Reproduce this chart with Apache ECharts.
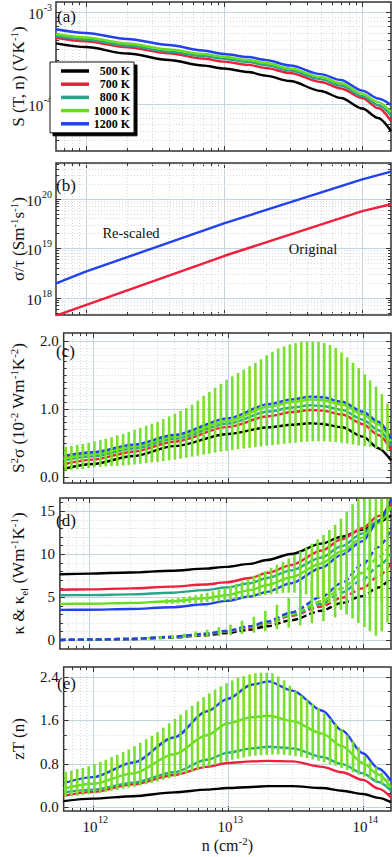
<!DOCTYPE html>
<html><head><meta charset="utf-8">
<script src="https://cdn.jsdelivr.net/npm/echarts@6/dist/echarts.min.js"></script>
<style>html,body{margin:0;padding:0;background:#fff}#c{width:392px;height:857px}</style>
</head><body><div id="c"></div>
<script>
const FONT = '"Liberation Serif", "Times New Roman", serif';
const temps = ['500 K', '700 K', '800 K', '1000 K', '1200 K'];
const lineColors = ['#000000', '#f0203c', '#2aa58a', '#66dd1f', '#2242f0'];
const barColor = '#7ae030';
const MAJOR_GRID = '#c6d4de', MINOR_GRID = '#d6dadd', TICK = '#333';

// x axis (carrier density, cm^-2)
const nMin = 6.1e11, nMax = 1.613e14;
const xMajorTicks = [1e12, 1e13, 1e14];
const xMinorTicks = [7e11, 8e11, 9e11, 2e12, 3e12, 4e12, 5e12, 6e12, 7e12, 8e12, 9e12, 2e13, 3e13, 4e13, 5e13, 6e13, 7e13, 8e13, 9e13];

// common sampling of curves for (a), (d), (e)
const nCurve = [6.1e11, 1e12, 2e12, 4e12, 7e12, 1e13, 1.5e13, 2e13, 3e13, 5e13, 7e13, 1e14, 1.3e14, 1.613e14];

// (a) Seebeck S (V/K)
const sA500 = [4.58e-4, 4.17e-4, 3.54e-4, 3.01e-4, 2.62e-4, 2.43e-4, 2.22e-4, 2.03e-4, 1.77e-4, 1.38e-4, 1.155e-4, 8.86e-5, 6.98e-5, 5.03e-5];
const sA700 = [5.27e-4, 4.82e-4, 4.14e-4, 3.56e-4, 3.12e-4, 2.89e-4, 2.66e-4, 2.46e-4, 2.17e-4, 1.73e-4, 1.47e-4, 1.155e-4, 8.97e-5, 6.47e-5];
const sA800 = [5.50e-4, 5.04e-4, 4.33e-4, 3.72e-4, 3.33e-4, 3.10e-4, 2.86e-4, 2.65e-4, 2.31e-4, 1.86e-4, 1.58e-4, 1.21e-4, 9.68e-5, 7.43e-5];
const sA1000 = [5.79e-4, 5.30e-4, 4.56e-4, 3.92e-4, 3.50e-4, 3.27e-4, 3.01e-4, 2.79e-4, 2.43e-4, 1.96e-4, 1.68e-4, 1.29e-4, 1.04e-4, 8.11e-5];
const sA1200 = [6.52e-4, 5.94e-4, 5.10e-4, 4.39e-4, 3.82e-4, 3.50e-4, 3.24e-4, 3.01e-4, 2.62e-4, 2.11e-4, 1.82e-4, 1.39e-4, 1.14e-4, 9.68e-5];
const yMajorA = [1e-4, 1e-3];
const yMinorA = [4e-5, 5e-5, 6e-5, 7e-5, 8e-5, 9e-5, 2e-4, 3e-4, 4e-4, 5e-4, 6e-4, 7e-4, 8e-4, 9e-4];

// (b) sigma/tau
const nB = [6.1e11, 1e12, 1e13, 1e14, 1.613e14];
const rescaledB = [1.95e18, 3.35e18, 3.18e19, 2.45e20, 3.51e20];
const originalB = [4.33e17, 7.1e17, 6.95e18, 5.6e19, 7.71e19];
const yMajorB = [1e18, 1e19, 1e20];
const yMinorB = [5e17, 6e17, 7e17, 8e17, 9e17, 2e18, 3e18, 4e18, 5e18, 6e18, 7e18, 8e18, 9e18, 2e19, 3e19, 4e19, 5e19, 6e19, 7e19, 8e19, 9e19, 2e20, 3e20, 4e20, 5e20];

// (c) power factor
const nC = [6.1e11, 1e12, 2e12, 4e12, 1e13, 2e13, 3e13, 4.1e13, 5e13, 7e13, 1e14, 1.3e14, 1.613e14];
const pfC500 = [0.114, 0.187, 0.305, 0.45, 0.63, 0.728, 0.766, 0.787, 0.777, 0.728, 0.59, 0.42, 0.24];
const pfC700 = [0.183, 0.251, 0.368, 0.516, 0.734, 0.892, 0.953, 0.984, 0.974, 0.917, 0.774, 0.615, 0.40];
const pfC800 = [0.238, 0.300, 0.414, 0.557, 0.782, 0.960, 1.020, 1.052, 1.042, 0.985, 0.840, 0.685, 0.46];
const pfC1000 = [0.272, 0.331, 0.444, 0.587, 0.82, 1.03, 1.10, 1.137, 1.127, 1.063, 0.917, 0.77, 0.52];
const pfC1200 = [0.305, 0.36, 0.472, 0.615, 0.86, 1.07, 1.14, 1.18, 1.17, 1.105, 0.958, 0.81, 0.56];
const yMajorC = [0, 1, 2];
const yMinorC = [0.1, 0.2, 0.3, 0.4, 0.5, 0.6, 0.7, 0.8, 0.9, 1.1, 1.2, 1.3, 1.4, 1.5, 1.6, 1.7, 1.8, 1.9];
const yLabelsC = [0, 1, 2];

// (d) thermal conductivity: total (solid) and electronic (dashed)
const kD500 = [7.65, 7.72, 7.85, 8.05, 8.3, 8.5, 8.85, 9.3, 10.0, 11.2, 12.0, 12.8, 13.7, 14.5];
const kD700 = [5.85, 5.88, 6.0, 6.2, 6.45, 6.7, 7.2, 7.8, 8.7, 10.4, 11.7, 13.0, 14.4, 15.8];
const kD800 = [5.2, 5.22, 5.3, 5.5, 5.8, 6.1, 6.6, 7.2, 8.1, 9.6, 10.9, 12.4, 13.9, 15.3];
const kD1000 = [4.2, 4.22, 4.3, 4.5, 4.85, 5.2, 5.8, 6.4, 7.3, 8.9, 10.3, 11.9, 13.6, 15.5];
const kD1200 = [3.5, 3.52, 3.6, 3.8, 4.15, 4.55, 5.05, 5.6, 6.6, 8.4, 9.9, 11.5, 13.8, 16.4];
const kelD500 = [0.0, 0.04, 0.1, 0.28, 0.55, 0.8, 1.2, 1.6, 2.3, 3.4, 4.3, 5.1, 6.1, 7.2];
const kelD700 = [0.0, 0.05, 0.12, 0.33, 0.65, 0.95, 1.45, 1.95, 2.8, 3.9, 4.9, 6.0, 7.4, 8.9];
const kelD800 = [0.0, 0.05, 0.12, 0.34, 0.68, 1.0, 1.5, 2.0, 2.9, 4.2, 5.5, 7.0, 8.6, 10.0];
const kelD1000 = [0.0, 0.05, 0.12, 0.35, 0.7, 1.0, 1.55, 2.05, 3.0, 4.5, 6.0, 7.8, 9.6, 11.2];
const kelD1200 = [0.0, 0.05, 0.12, 0.36, 0.72, 1.05, 1.6, 2.15, 3.2, 5.0, 6.6, 8.8, 10.8, 12.8];
const yMajorD = [0, 5, 10, 15];
const yMinorD = [1, 2, 3, 4, 6, 7, 8, 9, 11, 12, 13, 14, 16];
const yLabelsD = [0, 5, 10, 15];

// (e) zT
const zt500 = [0.11, 0.155, 0.20, 0.27, 0.32, 0.35, 0.37, 0.385, 0.385, 0.35, 0.30, 0.24, 0.17, 0.09];
const zt700 = [0.21, 0.28, 0.42, 0.59, 0.74, 0.81, 0.84, 0.85, 0.84, 0.74, 0.64, 0.50, 0.34, 0.18];
const zt800 = [0.27, 0.32, 0.45, 0.64, 0.87, 1.0, 1.08, 1.11, 1.08, 0.92, 0.79, 0.62, 0.46, 0.30];
const zt1000 = [0.34, 0.43, 0.62, 0.97, 1.32, 1.54, 1.65, 1.68, 1.58, 1.35, 1.12, 0.81, 0.60, 0.36];
const zt1200 = [0.44, 0.55, 0.82, 1.28, 1.76, 1.99, 2.25, 2.31, 2.14, 1.77, 1.41, 0.99, 0.71, 0.48];
const yMajorE = [0, 0.8, 1.6, 2.4];
const yMinorE = [0.2667, 0.5333, 1.0667, 1.3333, 1.8667, 2.1333];
const yLabelsE = [0, 0.8, 1.6, 2.4];

// error bars (1000 K)
const nBar = [6.31e11, 6.96e11, 7.68e11, 8.46e11, 9.34e11, 1.03e12, 1.14e12, 1.25e12, 1.38e12, 1.52e12,
  1.68e12, 1.85e12, 2.04e12, 2.25e12, 2.49e12, 2.74e12, 3.02e12, 3.33e12, 3.68e12, 4.06e12,
  4.47e12, 4.93e12, 5.44e12, 6.00e12, 6.62e12, 7.30e12, 8.05e12, 8.88e12, 9.79e12, 1.08e13,
  1.19e13, 1.31e13, 1.45e13, 1.60e13, 1.76e13, 1.94e13, 2.14e13, 2.36e13, 2.61e13, 2.88e13,
  3.17e13, 3.50e13, 3.86e13, 4.25e13, 4.69e13, 5.17e13, 5.71e13, 6.29e13, 6.94e13, 7.65e13,
  8.44e13, 9.31e13, 1.03e14, 1.13e14, 1.25e14, 1.38e14, 1.52e14];
const errCHigh = [0.44, 0.455, 0.47, 0.48, 0.50, 0.52, 0.54, 0.56, 0.58, 0.61,
  0.63, 0.66, 0.69, 0.72, 0.75, 0.78, 0.81, 0.85, 0.89, 0.93,
  0.97, 1.01, 1.06, 1.12, 1.19, 1.25, 1.31, 1.37, 1.43, 1.48,
  1.53, 1.58, 1.63, 1.68, 1.73, 1.79, 1.84, 1.89, 1.92, 1.95,
  1.97, 1.985, 1.99, 1.99, 1.985, 1.97, 1.94, 1.90, 1.83, 1.76,
  1.68, 1.60, 1.51, 1.42, 1.33, 1.22, 1.08];
const errCLow = [0.09, 0.10, 0.11, 0.115, 0.125, 0.14, 0.145, 0.15, 0.155, 0.16,
  0.165, 0.17, 0.18, 0.19, 0.20, 0.21, 0.22, 0.23, 0.24, 0.25,
  0.265, 0.28, 0.295, 0.31, 0.325, 0.34, 0.355, 0.37, 0.38, 0.395,
  0.405, 0.415, 0.425, 0.435, 0.445, 0.455, 0.465, 0.475, 0.485, 0.495,
  0.50, 0.51, 0.515, 0.52, 0.52, 0.52, 0.515, 0.51, 0.50, 0.49,
  0.475, 0.46, 0.45, 0.44, 0.42, 0.40, 0.38];
const nBarK = nBar.slice(18);
const errKHigh = [4.75, 4.8, 4.9, 5.0, 5.1, 5.2, 5.35, 5.5, 5.65, 5.85, 6.05, 6.3, 6.55, 6.8, 7.1, 7.4, 7.7, 8.0, 8.4, 8.75,
  9.1, 9.5, 9.9, 10.3, 10.75, 11.2, 11.7, 12.2, 12.8, 13.4, 14.1, 14.9, 15.8, 16.8, 17.5, 18, 18, 18, 18];
const errKLow = [4.2, 4.2, 4.25, 4.25, 4.3, 4.3, 4.35, 4.4, 4.45, 4.5, 4.55, 4.6, 4.7, 4.8, 4.9, 5.0, 5.1, 5.2, 5.3, 5.4,
  5.45, 5.5, 5.5, 5.4, 5.3, 5.1, 4.9, 4.6, 4.3, 3.9, 3.5, 3.0, 2.5, 2.0, 1.5, 1.0, 0.5, 1.0, 2.0];
const nBarKel = [2.74e12, 3.33e12, 4.06e12, 4.93e12, 6.00e12, 7.30e12, 8.88e12, 1.08e13, 1.31e13, 1.60e13, 1.94e13,
  2.36e13, 2.88e13, 3.50e13, 4.25e13, 5.17e13, 6.29e13, 7.65e13, 9.31e13, 1.13e14, 1.38e14];
const errKelHigh = [0.35, 0.45, 0.58, 0.75, 0.98, 1.2, 1.5, 1.78, 2.25, 2.7, 3.4, 4.1, 4.9, 5.9, 6.8, 7.9, 9.3, 11.0, 12.7, 14.6, 17];
const errKelLow = [0.08, 0.12, 0.17, 0.22, 0.3, 0.38, 0.46, 0.55, 0.7, 0.85, 1.05, 1.25, 1.45, 1.7, 1.95, 2.2, 2.6, 3.0, 3.4, 3.9, 4.5];
const errEHigh = [0.65, 0.67, 0.70, 0.72, 0.75, 0.79, 0.83, 0.87, 0.92, 0.96,
  1.01, 1.06, 1.12, 1.18, 1.25, 1.31, 1.38, 1.46, 1.54, 1.62,
  1.70, 1.78, 1.86, 1.94, 2.02, 2.09, 2.16, 2.22, 2.28, 2.33,
  2.38, 2.41, 2.44, 2.46, 2.47, 2.47, 2.46, 2.40, 2.33, 2.23,
  2.13, 2.05, 1.98, 1.90, 1.82, 1.72, 1.62, 1.53, 1.43, 1.32,
  1.21, 1.10, 0.94, 0.83, 0.73, 0.63, 0.52];
const errELow = [0.19, 0.20, 0.21, 0.22, 0.235, 0.25, 0.265, 0.28, 0.30, 0.315,
  0.335, 0.355, 0.375, 0.395, 0.42, 0.445, 0.47, 0.50, 0.53, 0.56,
  0.59, 0.62, 0.66, 0.69, 0.72, 0.75, 0.78, 0.81, 0.84, 0.87,
  0.89, 0.91, 0.93, 0.945, 0.955, 0.96, 0.965, 0.965, 0.96, 0.95,
  0.935, 0.92, 0.90, 0.875, 0.85, 0.82, 0.79, 0.76, 0.72, 0.68,
  0.64, 0.60, 0.56, 0.52, 0.47, 0.42, 0.37];

// ---------------- build ----------------
const grids = [
  {top: 2, height: 149},
  {top: 163, height: 152},
  {top: 333, height: 150},
  {top: 498, height: 151},
  {top: 667, height: 147}
].map(g => Object.assign({left: 49, right: 1, show: true, borderColor: '#333', borderWidth: 1.5, backgroundColor: '#fff'}, g));

const nameRich = {
  s: {fontFamily: FONT, fontSize: 11, color: '#111', lineHeight: 21, verticalAlign: 'top'},
  u: {fontFamily: FONT, fontSize: 11, color: '#111', lineHeight: 21, verticalAlign: 'bottom'}
};
const measureCtx = document.createElement('canvas').getContext('2d');
function textWidth(t, size) { measureCtx.font = size + 'px "Liberation Serif"'; return measureCtx.measureText(t).width; }
const expOf = v => String(Math.round(Math.log10(v)));

const xAxes = grids.map((g, i) => ({
  type: 'log', logBase: 10, gridIndex: i, min: nMin, max: nMax,
  axisLine: {show: false}, axisTick: {show: false}, splitLine: {show: false}, axisLabel: {show: false},
  name: i === 4 ? 'n (cm{s|-2})' : '', nameLocation: 'middle', nameGap: 24,
  nameTextStyle: {fontFamily: FONT, fontSize: 16, color: '#111', lineHeight: 21, rich: nameRich}
}));

function yAxisBase(i, name) {
  return {
    gridIndex: i, axisLine: {show: false}, axisTick: {show: false}, splitLine: {show: false},
    name: name, nameLocation: 'middle', nameGap: 27,
    nameTextStyle: {fontFamily: FONT, fontSize: 17, color: '#111', lineHeight: 21, rich: nameRich}
  };
}
const yAxes = [
  Object.assign(yAxisBase(0, 'S (T, n) (VK{s|-1})'), {type: 'log', logBase: 10, min: 3.04e-5, max: 1.297e-3, axisLabel: {show: false}}),
  Object.assign(yAxisBase(1, 'σ/τ (Sm{s|-1}s{s|-1})'), {type: 'log', logBase: 10, min: 4.47e17, max: 5.26e20, axisLabel: {show: false}}),
  Object.assign(yAxisBase(2, 'S{s|2}σ (10{s|-2} Wm{s|-1}K{s|-2})'), {type: 'value', min: -0.093, max: 2.118,
    axisLabel: {customValues: yLabelsC, margin: 5, fontFamily: FONT, fontSize: 15, color: '#111', formatter: v => v.toFixed(1)}}),
  Object.assign(yAxisBase(3, 'κ & κ{u|el} (Wm{s|-1}K{s|-1})'), {type: 'value', min: -1.047, max: 16.51,
    axisLabel: {customValues: yLabelsD, margin: 5, fontFamily: FONT, fontSize: 15, color: '#111', formatter: v => String(Math.round(v))}}),
  Object.assign(yAxisBase(4, 'zT (n)'), {type: 'value', min: -0.072, max: 2.575,
    axisLabel: {customValues: yLabelsE, margin: 5, fontFamily: FONT, fontSize: 15, color: '#111', formatter: v => v.toFixed(1)}})
];

const series = [];
function addLine(gi, name, xs, ys, color, dashed, smooth) {
  series.push({
    type: 'line', name: name, xAxisIndex: gi, yAxisIndex: gi,
    data: xs.map((x, i) => [x, ys[i]]),
    symbol: 'none', showSymbol: false, smooth: smooth === false ? false : 0.3, smoothMonotone: 'x',
    lineStyle: {color: color, width: 2.4, type: dashed ? [6, 3] : 'solid'},
    itemStyle: {color: color}, z: 3, animation: false, silent: true
  });
}
// left-anchored text (positions computed from measured widths)
function leftText(x, y, text, size) {
  return {type: 'text', x: x, y: y, style: {text: text, fontFamily: FONT, fontSize: size, fill: '#111', align: 'left', verticalAlign: 'middle'}};
}
// grid lines + ticks on all four sides (+ power-of-ten labels where requested)
function addGrid(gi, xRef, yRef, yMajor, yMinor, xLabels, yPowLabels) {
  const xd = xMajorTicks.map(v => [v, yRef, 1]).concat(xMinorTicks.map(v => [v, yRef, 0]));
  const yd = yMajor.map(v => [xRef, v, 1]).concat(yMinor.map(v => [xRef, v, 0]));
  series.push({
    type: 'custom', xAxisIndex: gi, yAxisIndex: gi, z: 1, silent: true, animation: false, data: xd,
    renderItem: (p, api) => {
      const cs = p.coordSys;
      const v = api.value(0);
      const px = Math.round(api.coord([v, api.value(1)])[0]) + 0.5;
      const major = api.value(2) === 1, len = major ? 5 : 3;
      const ch = [
        {type: 'line', shape: {x1: px, y1: cs.y, x2: px, y2: cs.y + cs.height},
          style: {stroke: major ? MAJOR_GRID : MINOR_GRID, lineWidth: 1, lineDash: major ? 'solid' : [1, 2]}},
        {type: 'line', shape: {x1: px, y1: cs.y + cs.height, x2: px, y2: cs.y + cs.height - len}, style: {stroke: TICK, lineWidth: 1}},
        {type: 'line', shape: {x1: px, y1: cs.y, x2: px, y2: cs.y + len}, style: {stroke: TICK, lineWidth: 1}}
      ];
      if (major && xLabels) {
        const by = cs.y + cs.height;
        ch.push(leftText(px + 4 - textWidth('10', 15), by + 16, '10', 15));
        ch.push(leftText(px + 4.5, by + 8, expOf(v), 10));
      }
      return {type: 'group', children: ch};
    }
  });
  series.push({
    type: 'custom', xAxisIndex: gi, yAxisIndex: gi, z: 1, silent: true, animation: false, data: yd,
    renderItem: (p, api) => {
      const cs = p.coordSys;
      const v = api.value(1);
      const py = Math.round(api.coord([api.value(0), v])[1]) + 0.5;
      const major = api.value(2) === 1, len = major ? 5 : 3;
      const ch = [
        {type: 'line', shape: {x1: cs.x, y1: py, x2: cs.x + cs.width, y2: py},
          style: {stroke: major ? MAJOR_GRID : MINOR_GRID, lineWidth: 1, lineDash: major ? 'solid' : [1, 2]}},
        {type: 'line', shape: {x1: cs.x, y1: py, x2: cs.x + len, y2: py}, style: {stroke: TICK, lineWidth: 1}},
        {type: 'line', shape: {x1: cs.x + cs.width, y1: py, x2: cs.x + cs.width - len, y2: py}, style: {stroke: TICK, lineWidth: 1}}
      ];
      if (major && yPowLabels) {
        const e = expOf(v);
        const ex = cs.x - 4 - textWidth(e, 10);
        ch.push(leftText(ex, py - 5.5, e, 10));
        ch.push(leftText(ex - 0.5 - textWidth('10', 15), py + 1, '10', 15));
      }
      return {type: 'group', children: ch};
    }
  });
}
function addErr(gi, ns, lows, highs) {
  series.push({
    type: 'custom', xAxisIndex: gi, yAxisIndex: gi, z: 5, silent: true, animation: false,
    data: ns.map((n, k) => [n, lows[k], highs[k]]),
    renderItem: (p, api) => {
      const cs = p.coordSys;
      const a = api.coord([api.value(0), api.value(1)]);
      const b = api.coord([api.value(0), api.value(2)]);
      const top = Math.max(cs.y + 1, Math.min(a[1], b[1]));
      const bot = Math.min(cs.y + cs.height - 1, Math.max(a[1], b[1]));
      if (bot <= top) return null;
      return {type: 'line', shape: {x1: a[0], y1: top, x2: a[0], y2: bot}, style: {stroke: barColor, lineWidth: 2.6}};
    }
  });
}

addGrid(0, 1e13, 1e-4, yMajorA, yMinorA, false, true);
addGrid(1, 1e13, 1e19, yMajorB, yMinorB, false, true);
addGrid(2, 1e13, 1, yMajorC, yMinorC, false, false);
addGrid(3, 1e13, 5, yMajorD, yMinorD, false, false);
addGrid(4, 1e13, 1, yMajorE, yMinorE, true, false);

[sA500, sA700, sA800, sA1000, sA1200].forEach((d, i) => addLine(0, temps[i], nCurve, d, lineColors[i], false));
addLine(1, 'Original', nB, originalB, lineColors[1], false, false);
addLine(1, 'Re-scaled', nB, rescaledB, lineColors[4], false, false);
[pfC500, pfC700, pfC800, pfC1000, pfC1200].forEach((d, i) => addLine(2, temps[i], nC, d, lineColors[i], false));
[kD500, kD700, kD800, kD1000, kD1200].forEach((d, i) => addLine(3, temps[i], nCurve, d, lineColors[i], false));
[kelD500, kelD700, kelD800, kelD1000, kelD1200].forEach((d, i) => addLine(3, temps[i], nCurve, d, lineColors[i], true));
[zt500, zt700, zt800, zt1000, zt1200].forEach((d, i) => addLine(4, temps[i], nCurve, d, lineColors[i], false));

addErr(2, nBar, errCLow, errCHigh);
addErr(3, nBarK, errKLow, errKHigh);
addErr(3, nBarKel, errKelLow, errKelHigh);
addErr(4, nBar, errELow, errEHigh);

const panelTags = ['(a)', '(b)', '(c)', '(d)', '(e)'];
const tagPos = [[57, 16], [56, 185], [56, 351], [56, 520], [57, 683]];
const graphics = panelTags.map((t, i) => ({
  type: 'text', x: tagPos[i][0], y: tagPos[i][1], z: 10,
  style: {text: t, fontFamily: FONT, fontSize: 17, fill: '#111', verticalAlign: 'middle', align: 'left'}
}));
graphics.push({type: 'text', x: 131, y: 233, z: 10, style: {text: 'Re-scaled', fontFamily: FONT, fontSize: 14.5, fill: '#111', align: 'center', verticalAlign: 'middle'}});
graphics.push({type: 'text', x: 313, y: 249, z: 10, style: {text: 'Original', fontFamily: FONT, fontSize: 14.5, fill: '#111', align: 'center', verticalAlign: 'middle'}});

const chart = echarts.init(document.getElementById('c'), null, {renderer: 'svg', width: 392, height: 857});
chart.setOption({
  animation: false,
  backgroundColor: '#fff',
  grid: grids,
  xAxis: xAxes,
  yAxis: yAxes,
  legend: {
    data: temps, orient: 'vertical', left: 50, top: 62,
    icon: 'rect', itemWidth: 28, itemHeight: 3.5, itemGap: 1.2, padding: [3, 4, 3, 11],
    backgroundColor: '#fff', borderColor: '#111', borderWidth: 1,
    shadowColor: '#000', shadowBlur: 0, shadowOffsetX: 3, shadowOffsetY: 3,
    selectedMode: false, z: 20,
    formatter: n => '{t|' + n + '}',
    textStyle: {rich: {t: {width: 36, align: 'right', lineHeight: 14, fontFamily: FONT, fontWeight: 'bold', fontSize: 12, color: '#000'}}}
  },
  graphic: graphics,
  series: series
});
</script>
</body></html>
